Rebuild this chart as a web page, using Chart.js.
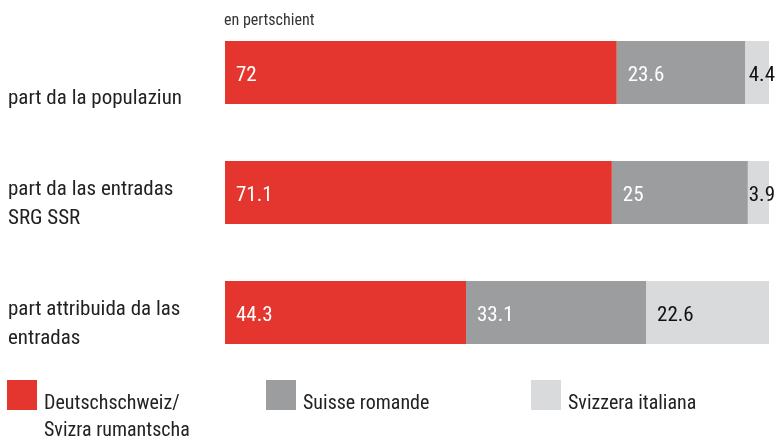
<!DOCTYPE html>
<html>
<head>
<meta charset="utf-8">
<script src="https://cdn.jsdelivr.net/npm/chart.js@4"></script>
<style>
  html, body { margin: 0; padding: 0; background: #fff; }
  #wrap { position: relative; width: 777px; height: 441px; }
</style>
</head>
<body>
<div id="wrap"><canvas id="c" width="777" height="441"></canvas></div>
<script>
const categories = [
  ["part da la populaziun"],
  ["part da las entradas", "SRG SSR"],
  ["part attribuida da las", "entradas"]
];
const seriesNames = [["Deutschschweiz/", "Svizra rumantscha"], ["Suisse romande"], ["Svizzera italiana"]];
const deutschschweiz = [72, 71.1, 44.3];
const suisseRomande = [23.6, 25, 33.1];
const svizzeraItaliana = [4.4, 3.9, 22.6];
const unitLabel = "en pertschient";

const colors = ["#E4352E", "#9C9D9F", "#D9DADC"];
const labelColors = ["#ffffff", "#ffffff", "#111111"];
const FONT = "'Liberation Sans Narrow', 'Arial Narrow', 'Roboto Condensed', Roboto, sans-serif";
const TEXT = "#222222";

const drawPlugin = {
  id: 'custom',
  afterDatasetsDraw(chart) {
    const ctx = chart.ctx;
    ctx.save();
    ctx.font = "21px " + FONT;
    ctx.textBaseline = 'alphabetic';
    ctx.textAlign = 'left';
    chart.data.datasets.forEach((ds, di) => {
      const meta = chart.getDatasetMeta(di);
      meta.data.forEach((bar, i) => {
        const txt = String(ds.data[i]);
        const left = Math.min(bar.x, bar.base);
        const w = ctx.measureText(txt).width;
        let x = left + 11;
        if (x + w > chart.width - 2) x = chart.width - 2 - w;
        ctx.fillStyle = labelColors[di];
        ctx.fillText(txt, x, bar.y + 8.5);
      });
    });
    ctx.restore();
  },
  afterDraw(chart) {
    const ctx = chart.ctx;
    ctx.save();
    ctx.textAlign = 'left';
    ctx.textBaseline = 'alphabetic';
    ctx.font = "21px " + FONT;
    ctx.fillStyle = TEXT;
    const meta = chart.getDatasetMeta(0);
    meta.data.forEach((bar, i) => {
      const lines = categories[i];
      const bottom = bar.y + bar.height / 2;
      lines.forEach((ln, k) => {
        ctx.fillText(ln, 8, bottom - (lines.length - 1 - k) * 29.5);
      });
    });
    ctx.font = "16px " + FONT;
    ctx.fillStyle = "#333333";
    ctx.fillText(unitLabel, chart.chartArea.left - 1, 25);
    const legX = [7, 266, 531];
    ctx.font = "20px " + FONT;
    seriesNames.forEach((name, i) => {
      ctx.fillStyle = colors[i];
      ctx.fillRect(legX[i], 380, 30, 30);
      ctx.fillStyle = TEXT;
      name.forEach((ln, k) => ctx.fillText(ln, legX[i] + 37, 409 + k * 27));
    });
    ctx.restore();
  }
};

new Chart(document.getElementById('c'), {
  type: 'bar',
  data: {
    labels: categories,
    datasets: [
      { label: seriesNames[0].join(' '), data: deutschschweiz, backgroundColor: colors[0] },
      { label: seriesNames[1].join(' '), data: suisseRomande, backgroundColor: colors[1] },
      { label: seriesNames[2].join(' '), data: svizzeraItaliana, backgroundColor: colors[2] }
    ]
  },
  options: {
    indexAxis: 'y',
    responsive: false,
    animation: false,
    layout: { padding: { left: 225, right: 8, top: 12.5, bottom: 68.5 } },
    datasets: { bar: { categoryPercentage: 1, barPercentage: 0.525, borderWidth: 0 } },
    scales: {
      x: { stacked: true, min: 0, max: 100, display: false },
      y: { stacked: true, display: false }
    },
    plugins: { legend: { display: false }, tooltip: { enabled: false } }
  },
  plugins: [drawPlugin]
});
</script>
</body>
</html>
